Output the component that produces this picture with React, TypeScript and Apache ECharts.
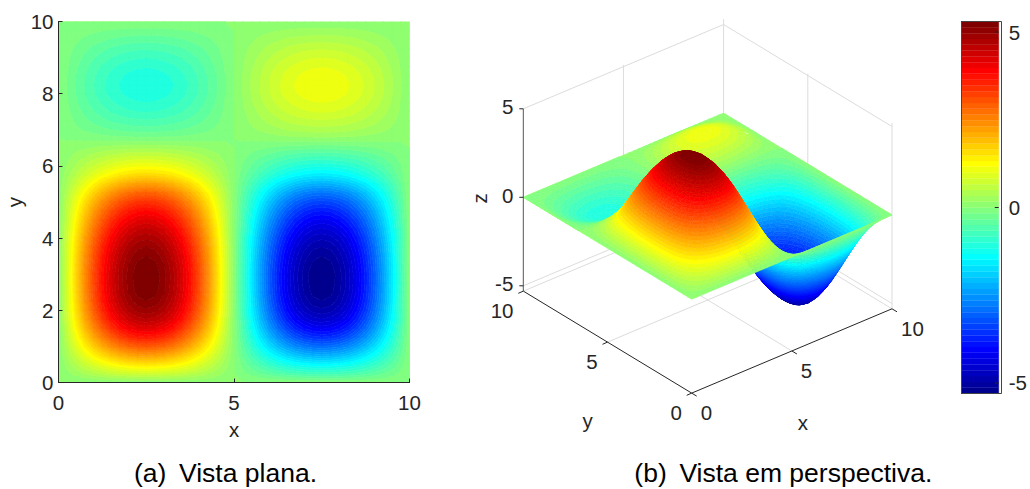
import React, { useEffect, useRef } from "react";
import * as echarts from "echarts";

const zRows: number[][] = [
[0,0,0,0,0,0,0,0,0,0,0,0,0,0,0,0,0,0,0,0,0,0,0,0,0,0,0,0,0,0,0,0,0,0,0,0,0,0,0,0,0],
[0,.12,.23,.34,.44,.53,.61,.67,.71,.74,.75,.74,.71,.67,.61,.53,.44,.34,.23,.12,0,-.12,-.23,-.34,-.44,-.53,-.61,-.67,-.71,-.74,-.75,-.74,-.71,-.67,-.61,-.53,-.44,-.34,-.23,-.12,0],
[0,.23,.46,.67,.87,1.05,1.2,1.32,1.41,1.46,1.48,1.46,1.41,1.32,1.2,1.05,.87,.67,.46,.23,0,-.23,-.46,-.67,-.87,-1.05,-1.2,-1.32,-1.41,-1.46,-1.48,-1.46,-1.41,-1.32,-1.2,-1.05,-.87,-.67,-.46,-.23,0],
[0,.35,.69,1.02,1.32,1.58,1.81,2,2.13,2.21,2.24,2.21,2.13,2,1.81,1.58,1.32,1.02,.69,.35,0,-.35,-.69,-1.02,-1.32,-1.58,-1.81,-2,-2.13,-2.21,-2.24,-2.21,-2.13,-2,-1.81,-1.58,-1.32,-1.02,-.69,-.35,0],
[0,.46,.92,1.35,1.75,2.1,2.4,2.65,2.82,2.93,2.97,2.93,2.82,2.65,2.4,2.1,1.75,1.35,.92,.46,0,-.46,-.92,-1.35,-1.75,-2.1,-2.4,-2.65,-2.82,-2.93,-2.97,-2.93,-2.82,-2.65,-2.4,-2.1,-1.75,-1.35,-.92,-.46,0],
[0,.56,1.12,1.64,2.13,2.56,2.93,3.23,3.44,3.58,3.62,3.58,3.44,3.23,2.93,2.56,2.13,1.64,1.12,.56,0,-.56,-1.12,-1.64,-2.13,-2.56,-2.93,-3.23,-3.44,-3.58,-3.62,-3.58,-3.44,-3.23,-2.93,-2.56,-2.13,-1.64,-1.12,-.56,0],
[0,.65,1.29,1.9,2.46,2.96,3.39,3.73,3.98,4.14,4.19,4.14,3.98,3.73,3.39,2.96,2.46,1.9,1.29,.65,0,-.65,-1.29,-1.9,-2.46,-2.96,-3.39,-3.73,-3.98,-4.14,-4.19,-4.14,-3.98,-3.73,-3.39,-2.96,-2.46,-1.9,-1.29,-.65,0],
[0,.72,1.43,2.1,2.72,3.27,3.74,4.12,4.39,4.56,4.62,4.56,4.39,4.12,3.74,3.27,2.72,2.1,1.43,.72,0,-.72,-1.43,-2.1,-2.72,-3.27,-3.74,-4.12,-4.39,-4.56,-4.62,-4.56,-4.39,-4.12,-3.74,-3.27,-2.72,-2.1,-1.43,-.72,0],
[0,.77,1.52,2.24,2.9,3.49,3.99,4.39,4.69,4.87,4.93,4.87,4.69,4.39,3.99,3.49,2.9,2.24,1.52,.77,0,-.77,-1.52,-2.24,-2.9,-3.49,-3.99,-4.39,-4.69,-4.87,-4.93,-4.87,-4.69,-4.39,-3.99,-3.49,-2.9,-2.24,-1.52,-.77,0],
[0,.8,1.59,2.33,3.02,3.63,4.15,4.57,4.88,5.07,5.13,5.07,4.88,4.57,4.15,3.63,3.02,2.33,1.59,.8,0,-.8,-1.59,-2.33,-3.02,-3.63,-4.15,-4.57,-4.88,-5.07,-5.13,-5.07,-4.88,-4.57,-4.15,-3.63,-3.02,-2.33,-1.59,-.8,0],
[0,.82,1.62,2.38,3.09,3.71,4.25,4.68,4.99,5.19,5.25,5.19,4.99,4.68,4.25,3.71,3.09,2.38,1.62,.82,0,-.82,-1.62,-2.38,-3.09,-3.71,-4.25,-4.68,-4.99,-5.19,-5.25,-5.19,-4.99,-4.68,-4.25,-3.71,-3.09,-2.38,-1.62,-.82,0],
[0,.83,1.63,2.4,3.11,3.74,4.28,4.71,5.03,5.23,5.29,5.23,5.03,4.71,4.28,3.74,3.11,2.4,1.63,.83,0,-.83,-1.63,-2.4,-3.11,-3.74,-4.28,-4.71,-5.03,-5.23,-5.29,-5.23,-5.03,-4.71,-4.28,-3.74,-3.11,-2.4,-1.63,-.83,0],
[0,.83,1.64,2.41,3.12,3.75,4.29,4.72,5.04,5.24,5.3,5.24,5.04,4.72,4.29,3.75,3.12,2.41,1.64,.83,0,-.83,-1.64,-2.41,-3.12,-3.75,-4.29,-4.72,-5.04,-5.24,-5.3,-5.24,-5.04,-4.72,-4.29,-3.75,-3.12,-2.41,-1.64,-.83,0],
[0,.82,1.62,2.38,3.08,3.7,4.24,4.67,4.98,5.18,5.24,5.18,4.98,4.67,4.24,3.7,3.08,2.38,1.62,.82,0,-.82,-1.62,-2.38,-3.08,-3.7,-4.24,-4.67,-4.98,-5.18,-5.24,-5.18,-4.98,-4.67,-4.24,-3.7,-3.08,-2.38,-1.62,-.82,0],
[0,.8,1.59,2.33,3.02,3.63,4.16,4.58,4.89,5.08,5.14,5.08,4.89,4.58,4.16,3.63,3.02,2.33,1.59,.8,0,-.8,-1.59,-2.33,-3.02,-3.63,-4.16,-4.58,-4.89,-5.08,-5.14,-5.08,-4.89,-4.58,-4.16,-3.63,-3.02,-2.33,-1.59,-.8,0],
[0,.78,1.54,2.26,2.93,3.52,4.03,4.44,4.74,4.92,4.98,4.92,4.74,4.44,4.03,3.52,2.93,2.26,1.54,.78,0,-.78,-1.54,-2.26,-2.93,-3.52,-4.03,-4.44,-4.74,-4.92,-4.98,-4.92,-4.74,-4.44,-4.03,-3.52,-2.93,-2.26,-1.54,-.78,0],
[0,.74,1.47,2.17,2.8,3.37,3.86,4.25,4.54,4.71,4.77,4.71,4.54,4.25,3.86,3.37,2.8,2.17,1.47,.74,0,-.74,-1.47,-2.17,-2.8,-3.37,-3.86,-4.25,-4.54,-4.71,-4.77,-4.71,-4.54,-4.25,-3.86,-3.37,-2.8,-2.17,-1.47,-.74,0],
[0,.7,1.39,2.04,2.65,3.18,3.64,4.01,4.28,4.45,4.5,4.45,4.28,4.01,3.64,3.18,2.65,2.04,1.39,.7,0,-.7,-1.39,-2.04,-2.65,-3.18,-3.64,-4.01,-4.28,-4.45,-4.5,-4.45,-4.28,-4.01,-3.64,-3.18,-2.65,-2.04,-1.39,-.7,0],
[0,.65,1.29,1.9,2.46,2.96,3.39,3.73,3.98,4.14,4.19,4.14,3.98,3.73,3.39,2.96,2.46,1.9,1.29,.65,0,-.65,-1.29,-1.9,-2.46,-2.96,-3.39,-3.73,-3.98,-4.14,-4.19,-4.14,-3.98,-3.73,-3.39,-2.96,-2.46,-1.9,-1.29,-.65,0],
[0,.6,1.18,1.73,2.25,2.7,3.09,3.4,3.63,3.77,3.82,3.77,3.63,3.4,3.09,2.7,2.25,1.73,1.18,.6,0,-.6,-1.18,-1.73,-2.25,-2.7,-3.09,-3.4,-3.63,-3.77,-3.82,-3.77,-3.63,-3.4,-3.09,-2.7,-2.25,-1.73,-1.18,-.6,0],
[0,.53,1.05,1.54,1.99,2.4,2.74,3.02,3.22,3.35,3.39,3.35,3.22,3.02,2.74,2.4,1.99,1.54,1.05,.53,0,-.53,-1.05,-1.54,-1.99,-2.4,-2.74,-3.02,-3.22,-3.35,-3.39,-3.35,-3.22,-3.02,-2.74,-2.4,-1.99,-1.54,-1.05,-.53,0],
[0,.45,.88,1.3,1.68,2.02,2.31,2.55,2.72,2.83,2.86,2.83,2.72,2.55,2.31,2.02,1.68,1.3,.88,.45,0,-.45,-.88,-1.3,-1.68,-2.02,-2.31,-2.55,-2.72,-2.83,-2.86,-2.83,-2.72,-2.55,-2.31,-2.02,-1.68,-1.3,-.88,-.45,0],
[0,.35,.69,1.01,1.31,1.58,1.8,1.99,2.12,2.2,2.23,2.2,2.12,1.99,1.8,1.58,1.31,1.01,.69,.35,0,-.35,-.69,-1.01,-1.31,-1.58,-1.8,-1.99,-2.12,-2.2,-2.23,-2.2,-2.12,-1.99,-1.8,-1.58,-1.31,-1.01,-.69,-.35,0],
[0,.25,.49,.73,.94,1.13,1.29,1.43,1.52,1.58,1.6,1.58,1.52,1.43,1.29,1.13,.94,.73,.49,.25,0,-.25,-.49,-.73,-.94,-1.13,-1.29,-1.43,-1.52,-1.58,-1.6,-1.58,-1.52,-1.43,-1.29,-1.13,-.94,-.73,-.49,-.25,0],
[0,.18,.35,.51,.66,.8,.91,1.01,1.07,1.12,1.13,1.12,1.07,1.01,.91,.8,.66,.51,.35,.18,0,-.18,-.35,-.51,-.66,-.8,-.91,-1.01,-1.07,-1.12,-1.13,-1.12,-1.07,-1.01,-.91,-.8,-.66,-.51,-.35,-.18,0],
[0,.11,.22,.32,.41,.49,.57,.62,.67,.69,.7,.69,.67,.62,.57,.49,.41,.32,.22,.11,0,-.11,-.22,-.32,-.41,-.49,-.57,-.62,-.67,-.69,-.7,-.69,-.67,-.62,-.57,-.49,-.41,-.32,-.22,-.11,0],
[0,.05,.09,.13,.17,.21,.23,.26,.28,.29,.29,.29,.28,.26,.23,.21,.17,.13,.09,.05,0,-.05,-.09,-.13,-.17,-.21,-.23,-.26,-.28,-.29,-.29,-.29,-.28,-.26,-.23,-.21,-.17,-.13,-.09,-.05,0],
[0,-.02,-.03,-.05,-.06,-.08,-.09,-.1,-.1,-.11,-.11,-.11,-.1,-.1,-.09,-.08,-.06,-.05,-.03,-.02,0,.02,.03,.05,.06,.08,.09,.1,.1,.11,.11,.11,.1,.1,.09,.08,.06,.05,.03,.02,0],
[0,-.06,-.13,-.19,-.24,-.29,-.33,-.37,-.39,-.41,-.41,-.41,-.39,-.37,-.33,-.29,-.24,-.19,-.13,-.06,0,.06,.13,.19,.24,.29,.33,.37,.39,.41,.41,.41,.39,.37,.33,.29,.24,.19,.13,.06,0],
[0,-.1,-.2,-.29,-.38,-.45,-.52,-.57,-.61,-.63,-.64,-.63,-.61,-.57,-.52,-.45,-.38,-.29,-.2,-.1,0,.1,.2,.29,.38,.45,.52,.57,.61,.63,.64,.63,.61,.57,.52,.45,.38,.29,.2,.1,0],
[0,-.13,-.26,-.38,-.49,-.59,-.68,-.75,-.8,-.83,-.84,-.83,-.8,-.75,-.68,-.59,-.49,-.38,-.26,-.13,0,.13,.26,.38,.49,.59,.68,.75,.8,.83,.84,.83,.8,.75,.68,.59,.49,.38,.26,.13,0],
[0,-.15,-.31,-.45,-.58,-.7,-.8,-.88,-.94,-.98,-.99,-.98,-.94,-.88,-.8,-.7,-.58,-.45,-.31,-.15,0,.15,.31,.45,.58,.7,.8,.88,.94,.98,.99,.98,.94,.88,.8,.7,.58,.45,.31,.15,0],
[0,-.17,-.34,-.5,-.65,-.78,-.89,-.98,-1.05,-1.09,-1.1,-1.09,-1.05,-.98,-.89,-.78,-.65,-.5,-.34,-.17,0,.17,.34,.5,.65,.78,.89,.98,1.05,1.09,1.1,1.09,1.05,.98,.89,.78,.65,.5,.34,.17,0],
[0,-.18,-.35,-.51,-.66,-.8,-.91,-1.01,-1.07,-1.12,-1.13,-1.12,-1.07,-1.01,-.91,-.8,-.66,-.51,-.35,-.18,0,.18,.35,.51,.66,.8,.91,1.01,1.07,1.12,1.13,1.12,1.07,1.01,.91,.8,.66,.51,.35,.18,0],
[0,-.17,-.34,-.49,-.64,-.77,-.88,-.97,-1.04,-1.08,-1.09,-1.08,-1.04,-.97,-.88,-.77,-.64,-.49,-.34,-.17,0,.17,.34,.49,.64,.77,.88,.97,1.04,1.08,1.09,1.08,1.04,.97,.88,.77,.64,.49,.34,.17,0],
[0,-.15,-.3,-.44,-.58,-.69,-.79,-.87,-.93,-.97,-.98,-.97,-.93,-.87,-.79,-.69,-.58,-.44,-.3,-.15,0,.15,.3,.44,.58,.69,.79,.87,.93,.97,.98,.97,.93,.87,.79,.69,.58,.44,.3,.15,0],
[0,-.13,-.25,-.37,-.48,-.58,-.66,-.73,-.78,-.81,-.82,-.81,-.78,-.73,-.66,-.58,-.48,-.37,-.25,-.13,0,.13,.25,.37,.48,.58,.66,.73,.78,.81,.82,.81,.78,.73,.66,.58,.48,.37,.25,.13,0],
[0,-.1,-.2,-.29,-.38,-.45,-.52,-.57,-.61,-.63,-.64,-.63,-.61,-.57,-.52,-.45,-.38,-.29,-.2,-.1,0,.1,.2,.29,.38,.45,.52,.57,.61,.63,.64,.63,.61,.57,.52,.45,.38,.29,.2,.1,0],
[0,-.07,-.13,-.2,-.25,-.3,-.35,-.38,-.41,-.42,-.43,-.42,-.41,-.38,-.35,-.3,-.25,-.2,-.13,-.07,0,.07,.13,.2,.25,.3,.35,.38,.41,.42,.43,.42,.41,.38,.35,.3,.25,.2,.13,.07,0],
[0,-.03,-.07,-.1,-.13,-.16,-.18,-.2,-.21,-.22,-.22,-.22,-.21,-.2,-.18,-.16,-.13,-.1,-.07,-.03,0,.03,.07,.1,.13,.16,.18,.2,.21,.22,.22,.22,.21,.2,.18,.16,.13,.1,.07,.03,0],
[0,0,0,0,0,0,0,0,0,0,0,0,0,0,0,0,0,0,0,0,0,0,0,0,0,0,0,0,0,0,0,0,0,0,0,0,0,0,0,0,0],
];
const gridStep = 0.25;
const colorMin = -5.3;
const colorMax = 5.3;
const levelCount = 64;
const xTicks3d = [0, 5, 10];
const yTicks3d = [0, 5, 10];
const zTicks3d = [-5, 0, 5];
const colorbarTicks = [-5, 0, 5];

const FONT = '"Liberation Sans", Arial, sans-serif';
const INK = "#262626";
const WALL = "#dcdcdc";
const FLOOR_Z = -5.3;
const CEIL_Z = 5;
const TICK_FONT = 20.5;

// MATLAB jet(64)
function jetTable(m: number): string[] {
  const n = Math.ceil(m / 4);
  const u: number[] = [];
  for (let i = 1; i <= n; i++) u.push(i / n);
  for (let i = 1; i < n; i++) u.push(1);
  for (let i = n; i >= 1; i--) u.push(i / n);
  const start = Math.ceil(n / 2) - (m % 4 === 1 ? 1 : 0);
  const rgb = Array.from({ length: m }, () => [0, 0, 0]);
  u.forEach((v, i) => {
    const g = start + i + 1;
    const r = g + n;
    const b = g - n;
    if (r >= 1 && r <= m) rgb[r - 1][0] = v;
    if (g >= 1 && g <= m) rgb[g - 1][1] = v;
    if (b >= 1 && b <= m) rgb[b - 1][2] = v;
  });
  return rgb.map(
    (c) => `rgb(${Math.round(c[0] * 255)},${Math.round(c[1] * 255)},${Math.round(c[2] * 255)})`
  );
}
const jet = jetTable(levelCount);
const delta = (colorMax - colorMin) / levelCount;

type P = [number, number, number];

function clipAt(poly: P[], level: number, keepAbove: boolean): P[] {
  const out: P[] = [];
  for (let i = 0; i < poly.length; i++) {
    const a = poly[i];
    const b = poly[(i + 1) % poly.length];
    const ina = keepAbove ? a[2] >= level : a[2] <= level;
    const inb = keepAbove ? b[2] >= level : b[2] <= level;
    if (ina) out.push(a);
    if (ina !== inb) {
      const t = (level - a[2]) / (b[2] - a[2]);
      out.push([a[0] + (b[0] - a[0]) * t, a[1] + (b[1] - a[1]) * t, level]);
    }
  }
  return out;
}

function levelOf(z: number) {
  return Math.max(0, Math.min(levelCount - 1, Math.floor((z - colorMin) / delta)));
}

function splitTriangle(tri: P[]): { level: number; poly: P[] }[] {
  const zs = tri.map((p) => p[2]);
  const k0 = levelOf(Math.min(...zs));
  const k1 = levelOf(Math.max(...zs));
  const res: { level: number; poly: P[] }[] = [];
  for (let k = k0; k <= k1; k++) {
    let poly = tri;
    if (k > k0) poly = clipAt(poly, colorMin + k * delta, true);
    if (k < k1) poly = clipAt(poly, colorMin + (k + 1) * delta, false);
    if (poly.length >= 3) res.push({ level: k, poly });
  }
  return res;
}

// the two triangles of one cell, far one first for the viewpoint on the -x,-y side
function cellTriangles(i: number, j: number): P[][] {
  const pt = (a: number, b: number): P => [a * gridStep, b * gridStep, zRows[b][a]];
  const A = pt(i, j);
  const B = pt(i + 1, j);
  const C = pt(i + 1, j + 1);
  const D = pt(i, j + 1);
  return [
    [B, C, D],
    [A, B, D],
  ];
}

const cells: [number, number][] = [];
for (let j = zRows.length - 2; j >= 0; j--)
  for (let i = zRows[0].length - 2; i >= 0; i--) cells.push([i, j]);

const bandPolys: P[][][] = Array.from({ length: levelCount }, () => []);
const cellPieces = cells.map(([i, j]) => {
  const pieces: { level: number; poly: P[] }[] = [];
  cellTriangles(i, j).forEach((t) => pieces.push(...splitTriangle(t)));
  pieces.forEach((p) => bandPolys[p.level].push(p.poly));
  return pieces;
});

// orthographic view of the 3-D panel, in plot units of the full-page hidden grid
const project = (x: number, y: number, z: number): [number, number] => [
  691.7 + 20.03 * x - 16.84 * y,
  299.3 - 8.43 * x - 10.2 * y - 17.7 * z,
];

const wallLines: number[][] = [
  [0, 10, CEIL_Z, 10, 10, CEIL_Z],
  [10, 10, CEIL_Z, 10, 0, CEIL_Z],
  [0, 10, -5, 10, 10, -5],
  [10, 10, -5, 10, 0, -5],
  [0, 10, FLOOR_Z, 10, 10, FLOOR_Z],
  [10, 10, FLOOR_Z, 10, 0, FLOOR_Z],
  [5, 10, FLOOR_Z, 5, 10, 5.1],
  [10, 10, FLOOR_Z, 10, 10, 5.3],
  [10, 5, FLOOR_Z, 10, 5, 5.1],
  [10, 0, FLOOR_Z, 10, 0, 5.2],
  [5, 0, FLOOR_Z, 5, 10, FLOOR_Z],
  [0, 5, FLOOR_Z, 10, 5, FLOOR_Z],
];

function segment(a: number[], b: number[], stroke: string, w: number) {
  return {
    type: "line",
    shape: { x1: a[0], y1: a[1], x2: b[0], y2: b[1] },
    style: { stroke, lineWidth: w },
    silent: true,
  };
}

function label(text: string, x: number, y: number, align: string, rotation = 0) {
  return {
    type: "text",
    x,
    y,
    rotation,
    style: {
      text,
      x: 0,
      y: 0,
      fill: INK,
      fontSize: TICK_FONT,
      fontFamily: FONT,
      textAlign: align,
      textVerticalAlign: "middle",
    },
    silent: true,
  };
}

export default function App() {
  const ref = useRef<HTMLDivElement>(null);
  useEffect(() => {
    document.body.style.margin = "0";
    const chart = echarts.init(ref.current!, undefined, { renderer: "svg" });

    const labelStyle = (margin: number) => ({ color: INK, fontSize: TICK_FONT, fontFamily: FONT, margin });
    const plainAxis = (extra: any) => ({
      type: "value",
      axisLine: { show: true, lineStyle: { color: INK, width: 1 } },
      axisTick: { show: true, inside: true, length: 4, lineStyle: { color: INK, width: 1 } },
      splitLine: { show: false },
      nameTextStyle: { color: INK, fontSize: TICK_FONT, fontFamily: FONT },
      z: 5,
      ...extra,
    });

    chart.setOption({
      animation: false,
      backgroundColor: "#ffffff",
      grid: [
        { left: 58.5, top: 21.5, width: 351, height: 361 },
        { left: 961.5, top: 21.5, width: 40, height: 372 },
        { left: 0, top: 0, width: 1030, height: 489 },
      ],
      xAxis: [
        plainAxis({
          gridIndex: 0, min: 0, max: 10, interval: 5, name: "x",
          nameLocation: "middle", nameGap: 36, axisLabel: labelStyle(9),
        }),
        { type: "value", gridIndex: 1, min: 0, max: 1, show: false },
        { type: "value", gridIndex: 2, min: 0, max: 1030, show: false },
      ],
      yAxis: [
        plainAxis({
          gridIndex: 0, min: 0, max: 10, interval: 2, name: "y",
          nameLocation: "middle", nameGap: 34, axisLabel: labelStyle(5),
        }),
        plainAxis({
          gridIndex: 1, min: colorMin, max: colorMax, position: "right",
          axisTick: { show: false },
          axisLabel: { ...labelStyle(10), customValues: colorbarTicks },
        }),
        { type: "value", gridIndex: 2, min: 0, max: 489, inverse: true, show: false },
      ],
      series: [
        {
          type: "custom",
          name: "plan",
          xAxisIndex: 0,
          yAxisIndex: 0,
          clip: true,
          silent: true,
          data: bandPolys.map((_, k) => [k, k]),
          renderItem: (params: any, api: any) => {
            const k = params.dataIndex;
            let d = "";
            for (const poly of bandPolys[k]) {
              poly.forEach((p, n) => {
                const c = api.coord([p[0], p[1]]);
                d += `${n ? "L" : "M"}${c[0].toFixed(2)} ${c[1].toFixed(2)}`;
              });
              d += "Z";
            }
            if (!d) return null;
            return {
              type: "path",
              shape: { pathData: d },
              style: { fill: jet[k], stroke: jet[k], lineWidth: 0.6 },
              silent: true,
            };
          },
        },
        {
          type: "custom",
          name: "colorbar",
          xAxisIndex: 1,
          yAxisIndex: 1,
          silent: true,
          data: jet.map((_, k) => [0, colorMin + k * delta]),
          renderItem: (params: any, api: any) => {
            const k = params.dataIndex;
            const a = api.coord([0, colorMin + k * delta]);
            const b = api.coord([1, colorMin + (k + 1) * delta]);
            return {
              type: "rect",
              shape: { x: a[0], y: b[1], width: b[0] - a[0], height: a[1] - b[1] },
              style: { fill: jet[k], stroke: jet[k], lineWidth: 0.3 },
              silent: true,
            };
          },
        },
        {
          type: "custom",
          name: "colorbarTicks",
          xAxisIndex: 1,
          yAxisIndex: 1,
          silent: true,
          z: 6,
          data: colorbarTicks.map((t) => [1, t]),
          renderItem: (params: any, api: any) => {
            const a = api.coord([1, colorbarTicks[params.dataIndex]]);
            return segment([a[0] - 4, a[1]], a, INK, 1);
          },
        },
        {
          type: "custom",
          name: "walls",
          xAxisIndex: 2,
          yAxisIndex: 2,
          silent: true,
          z: 2,
          data: wallLines.map((l, i) => [i, i]),
          renderItem: (params: any, api: any) => {
            const l = wallLines[params.dataIndex];
            const a = project(l[0], l[1], l[2]);
            const b = project(l[3], l[4], l[5]);
            return segment(api.coord(a), api.coord(b), WALL, 1);
          },
        },
        {
          type: "custom",
          name: "surface",
          xAxisIndex: 2,
          yAxisIndex: 2,
          silent: true,
          z: 3,
          data: cells.map(([i, j]) => [i, j]),
          renderItem: (params: any, api: any) => {
            const pieces = cellPieces[params.dataIndex];
            return {
              type: "group",
              children: pieces.map((piece) => ({
                type: "polygon",
                shape: {
                  points: piece.poly.map((p) => api.coord(project(p[0], p[1], p[2]))),
                },
                style: { fill: jet[piece.level], stroke: jet[piece.level], lineWidth: 0.5 },
                silent: true,
              })),
            };
          },
        },
        {
          type: "custom",
          name: "axes3d",
          xAxisIndex: 2,
          yAxisIndex: 2,
          silent: true,
          z: 4,
          data: [[0, 0]],
          renderItem: (_: any, api: any) => {
            const P3 = (x: number, y: number, z: number) => api.coord(project(x, y, z));
            const children: any[] = [
              segment(P3(0, 10, FLOOR_Z), P3(0, 0, FLOOR_Z), INK, 1),
              segment(P3(0, 0, FLOOR_Z), P3(10, 0, FLOOR_Z), INK, 1),
              segment(P3(0, 10, FLOOR_Z), P3(0, 10, CEIL_Z), "#555555", 1),
            ];
            xTicks3d.forEach((t) => {
              const a = P3(t, 0, FLOOR_Z);
              children.push(segment(a, [a[0] + 5, a[1] + 3], INK, 1));
              children.push(label(String(t), a[0] + 9, a[1] + 19.7, "left"));
            });
            yTicks3d.forEach((t) => {
              const a = P3(0, t, FLOOR_Z);
              children.push(segment(a, [a[0] - 5, a[1] + 2.2], INK, 1));
              children.push(label(String(t), a[0] - 9.8, a[1] + 19, "right"));
            });
            zTicks3d.forEach((t) => {
              const a = P3(0, 10, t);
              children.push(segment(a, [a[0] - 4, a[1]], INK, 1));
              children.push(label(String(t), a[0] - 10, a[1] - 2, "right"));
            });
            const xl = P3(5, 0, FLOOR_Z);
            children.push(label("x", xl[0] + 11, xl[1] + 72, "center"));
            const yl = P3(0, 5, FLOOR_Z);
            children.push(label("y", yl[0] - 20, yl[1] + 78, "center"));
            const zl = P3(0, 10, 0);
            children.push(label("z", zl[0] - 44, zl[1] + 1, "center", Math.PI / 2));
            return { type: "group", children };
          },
        },
      ],
      graphic: [
        {
          type: "rect",
          z: 10,
          silent: true,
          shape: { x: 961.5, y: 21.5, width: 40, height: 372 },
          style: { fill: "none", stroke: "#444444", lineWidth: 1 },
        },
        {
          type: "text",
          z: 10,
          silent: true,
          x: 225.5,
          y: 473,
          style: {
            text: "(a) \u2009Vista plana.",
            fill: "#000000",
            fontSize: 26.5,
            fontFamily: FONT,
            textAlign: "center",
            textVerticalAlign: "middle",
          },
        },
        {
          type: "text",
          z: 10,
          silent: true,
          x: 783.3,
          y: 473,
          style: {
            text: "(b) \u2009Vista em perspectiva.",
            fill: "#000000",
            fontSize: 26.5,
            fontFamily: FONT,
            textAlign: "center",
            textVerticalAlign: "middle",
          },
        },
      ],
    });
    return () => chart.dispose();
  }, []);
  return <div ref={ref} style={{ position: "absolute", left: 0, top: 0, width: 1030, height: 489 }} />;
}
